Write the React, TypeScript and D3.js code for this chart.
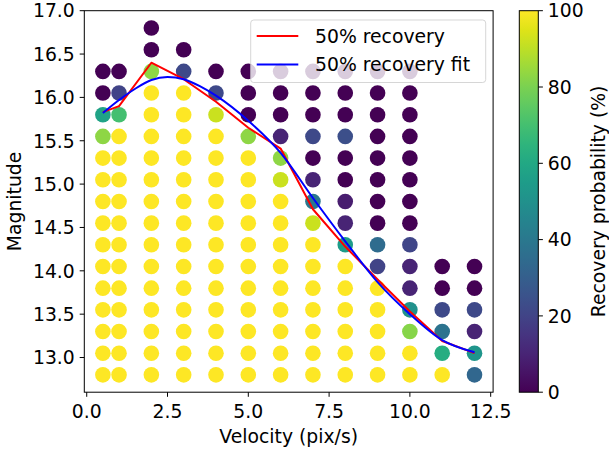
import React from "react";
import * as d3 from "d3";

const velocities = [0.5, 1, 2, 3, 4, 5, 6, 7, 8, 9, 10, 11, 12];
const magnitudes = [12.8, 13.05, 13.3, 13.55, 13.8, 14.05, 14.3, 14.55, 14.8, 15.05, 15.3, 15.55, 15.8, 16.05, 16.3, 16.55, 16.8];
// recovery probability (%) per velocity, listed from the bottom row (12.8) upwards
const recovery: number[][] = [
  [100, 100, 100, 100, 100, 100, 100, 100, 100, 100, 100, 83, 58, 0, 0],
  [100, 100, 100, 100, 100, 100, 100, 100, 100, 100, 100, 100, 70, 20, 0],
  [100, 100, 100, 100, 100, 100, 100, 100, 100, 100, 100, 100, 100, 100, 83, 0, 0],
  [100, 100, 100, 100, 100, 100, 100, 100, 100, 100, 100, 100, 100, 100, 22, 0],
  [100, 100, 100, 100, 100, 100, 100, 100, 100, 100, 100, 100, 92, 22, 0],
  [100, 100, 100, 100, 100, 100, 100, 100, 100, 100, 100, 83, 0, 0, 0],
  [100, 100, 100, 100, 100, 100, 100, 100, 100, 92, 83, 10, 0, 0, 0],
  [100, 100, 100, 100, 100, 100, 100, 92, 40, 10, 0, 22, 0, 0, 0],
  [100, 100, 100, 100, 100, 100, 55, 10, 8, 0, 0, 24, 0, 0, 0],
  [100, 100, 100, 100, 100, 20, 35, 0, 0, 0, 0, 0, 0, 0, 0],
  [100, 100, 82, 50, 10, 10, 21, 0, 0, 0, 0, 0, 0, 0, 0],
  [100, 62, 38, 22, 0, 0],
  [33, 52, 10, 22, 0, 0],
];
const recoveryLineMag = [15.83, 15.9, 16.4, 16.21, 15.95, 15.65, 15.41, 14.71, 14.28, 13.9, 13.53, 13.19, 13.05];
const fitVel = [0.5, 1, 1.5, 2, 2.5, 3, 3.5, 4, 5, 6, 7, 8, 9, 10, 11, 12];
const fitMag = [15.82, 15.97, 16.1, 16.2, 16.235, 16.21, 16.13, 16.02, 15.73, 15.36, 14.84, 14.34, 13.87, 13.5, 13.2, 13.06];
const xTicks = [0, 2.5, 5, 7.5, 10, 12.5];
const yTicks = [13.0, 13.5, 14.0, 14.5, 15.0, 15.5, 16.0, 16.5, 17.0];
const cbTicks = [0, 20, 40, 60, 80, 100];
const legendLabels = ["50% recovery", "50% recovery fit"];

const FONT = "DejaVu Sans, sans-serif";
const FS = 18.8;

export default function App() {
  const left = 84.3, right = 493.1, top = 10.7, bottom = 392.2;
  const x = d3.scaleLinear().domain([-0.075, 12.575]).range([left, right]);
  const y = d3.scaleLinear().domain([12.6, 17.0]).range([bottom, top]);
  const cbX0 = 519.3, cbX1 = 538.3;
  const cbY = d3.scaleLinear().domain([0, 100]).range([bottom, top]);
  const color = (v: number) => d3.interpolateViridis(v / 100);

  const points: { v: number; m: number; p: number }[] = [];
  velocities.forEach((v, i) => {
    recovery[i].forEach((p, j) => points.push({ v, m: magnitudes[j], p }));
  });

  const redLine = d3.line<number>().x((_, i) => x(velocities[i])).y((d) => y(d));
  const blueLine = d3
    .line<number>()
    .x((_, i) => x(fitVel[i]))
    .y((d) => y(d))
    .curve(d3.curveMonotoneX);

  const gradStops = d3.range(0, 101, 5);
  const tickLen = 4.6;

  const lg = { x: 250.7, y: 20, w: 235, h: 62.5 };

  return (
    <svg width={609} height={454} style={{ position: "absolute", left: 0, top: 0, background: "white" }} fontFamily={FONT}>
      <defs>
        <linearGradient id="vir" x1="0" y1="1" x2="0" y2="0">
          {gradStops.map((s) => (
            <stop key={s} offset={`${s}%`} stopColor={color(s)} />
          ))}
        </linearGradient>
        <clipPath id="plot">
          <rect x={left} y={top} width={right - left} height={bottom - top} />
        </clipPath>
      </defs>
      <rect x={0} y={0} width={609} height={454} fill="white" />
      <g clipPath="url(#plot)">
        {points.map((d, i) => (
          <circle key={i} cx={x(d.v)} cy={y(d.m)} r={7.8} fill={color(d.p)} />
        ))}
        <path d={redLine(recoveryLineMag) || ""} fill="none" stroke="#ff0000" strokeWidth={2} strokeLinejoin="round" />
        <path d={blueLine(fitMag) || ""} fill="none" stroke="#0000ff" strokeWidth={2} strokeLinejoin="round" />
      </g>
      {/* axes frame */}
      <rect x={left} y={top} width={right - left} height={bottom - top} fill="none" stroke="black" strokeWidth={1} />
      {xTicks.map((t) => (
        <g key={t}>
          <line x1={x(t)} x2={x(t)} y1={bottom} y2={bottom + tickLen} stroke="black" />
          <text x={x(t)} y={418} fontSize={FS} textAnchor="middle">
            {t.toFixed(1)}
          </text>
        </g>
      ))}
      {yTicks.map((t) => (
        <g key={t}>
          <line x1={left - tickLen} x2={left} y1={y(t)} y2={y(t)} stroke="black" />
          <text x={left - 9.5} y={y(t)} dy="0.36em" fontSize={FS} textAnchor="end">
            {t.toFixed(1)}
          </text>
        </g>
      ))}
      <text x={(left + right) / 2} y={443} fontSize={FS} textAnchor="middle">
        Velocity (pix/s)
      </text>
      <text transform={`translate(21, ${(top + bottom) / 2}) rotate(-90)`} fontSize={FS} textAnchor="middle">
        Magnitude
      </text>
      {/* legend */}
      <rect x={lg.x} y={lg.y} width={lg.w} height={lg.h} rx={3} fill="white" fillOpacity={0.8} stroke="#cccccc" strokeOpacity={0.8} />
      {legendLabels.map((lab, i) => (
        <g key={lab}>
          <line x1={256.7} x2={298.3} y1={36 + i * 28.5} y2={36 + i * 28.5} stroke={i === 0 ? "#ff0000" : "#0000ff"} strokeWidth={2} />
          <text x={315} y={36 + i * 28.5} dy="0.36em" fontSize={FS}>
            {lab}
          </text>
        </g>
      ))}
      {/* colorbar */}
      <rect x={cbX0} y={top} width={cbX1 - cbX0} height={bottom - top} fill="url(#vir)" />
      <rect x={cbX0} y={top} width={cbX1 - cbX0} height={bottom - top} fill="none" stroke="black" strokeWidth={1} />
      {cbTicks.map((t) => (
        <g key={t}>
          <line x1={cbX1} x2={cbX1 + tickLen} y1={cbY(t)} y2={cbY(t)} stroke="black" />
          <text x={cbX1 + 9.5} y={cbY(t)} dy="0.36em" fontSize={FS}>
            {t}
          </text>
        </g>
      ))}
      <text transform={`translate(605, ${(top + bottom) / 2}) rotate(-90)`} fontSize={FS} textAnchor="middle">
        Recovery probability (%)
      </text>
    </svg>
  );
}
